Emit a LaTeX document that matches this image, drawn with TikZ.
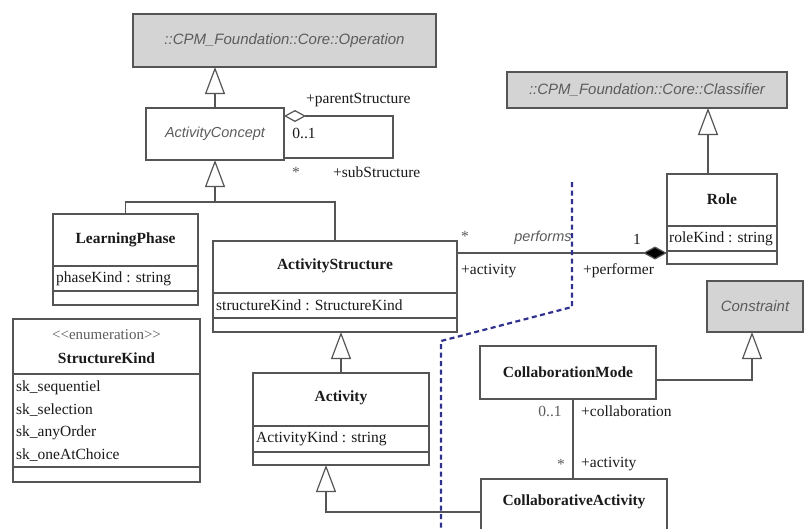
\documentclass[tikz,border=0pt]{standalone}
\usepackage{fontspec}
\setmainfont{Liberation Serif}
\setsansfont{Liberation Sans}
\usetikzlibrary{arrows.meta,calc}

\definecolor{boxline}{HTML}{555555}
\definecolor{boxfill}{HTML}{D4D4D4}
\definecolor{txt}{HTML}{1A1A1A}
\definecolor{soft}{HTML}{5C5C5C}
\definecolor{sep}{HTML}{30308F}

\tikzset{
  cls/.style={draw=boxline, line width=1.2pt, fill=white, inner sep=0pt, outer sep=0pt, anchor=north west},
  abstractcls/.style={cls, fill=boxfill},
  cname/.style={font=\fontsize{15.5}{18}\selectfont\bfseries, text=txt, inner sep=0pt},
  iname/.style={font=\fontsize{15}{18}\selectfont\sffamily\itshape, text=soft, inner sep=0pt},
  stereo/.style={font=\fontsize{15}{16}\selectfont, text=soft, inner sep=0pt},
  attr/.style={font=\fontsize{15.5}{18}\selectfont, text=txt, inner sep=0pt, anchor=west},
  lbl/.style={font=\fontsize{15.5}{18}\selectfont, text=txt, inner sep=0pt},
  mult/.style={lbl, text=soft},
  link/.style={draw=boxline, line width=1.2pt},
  gen/.style={link, -{Triangle[open, length=27pt, width=20pt]}},
  agg/.style={link, -{Diamond[open, length=22pt, width=12pt]}},
  comp/.style={link, -{Diamond[length=24pt, width=13pt, fill=black]}},
  boundary/.style={draw=sep, line width=2.2pt, dash pattern=on 5pt off 3.5pt},
  compsep/.style={draw=boxline, line width=1.2pt},
}

\begin{document}
\begin{tikzpicture}[x=1pt, y=-1pt]
  \clip (0,0) rectangle (804,528);
  \fill[white] (0,0) rectangle (804,528);

  % abstract base classes
  \node[abstractcls, minimum width=303pt, minimum height=53pt] (op) at (133,14) {};
  \node[iname] (opn) at (op.center) {::CPM\_Foundation::Core::Operation};

  \node[abstractcls, minimum width=280pt, minimum height=36pt] (cf) at (507,72) {};
  \node[iname] (cfn) at (cf.center) {::CPM\_Foundation::Core::Classifier};

  \node[abstractcls, minimum width=96pt, minimum height=51pt] (con) at (707,281) {};
  \node[iname] (conn) at (con.center) {Constraint};

  % ActivityConcept
  \node[cls, minimum width=138pt, minimum height=52pt] (ac) at (146,108) {};
  \node[iname, font=\fontsize{14.5}{18}\selectfont\sffamily\itshape] (acn) at (ac.center) {ActivityConcept};

  % LearningPhase
  \node[cls, minimum width=145pt, minimum height=91pt] (lp) at (53,214) {};
  \node[cname] (lpn) at ($(lp.north)+(0,26)$) {LearningPhase};
  \draw[compsep] ([yshift=-52pt]lp.north west) -- ([yshift=-52pt]lp.north east);
  \draw[compsep] ([yshift=-77pt]lp.north west) -- ([yshift=-77pt]lp.north east);
  \node[attr] (lpa) at ($(lp.north west)+(3,64.5)$) {phaseKind : string};

  % ActivityStructure
  \node[cls, minimum width=244pt, minimum height=91pt] (as) at (213,241) {};
  \node[cname] (asn) at ($(as.north)+(0,25)$) {ActivityStructure};
  \draw[compsep] ([yshift=-52pt]as.north west) -- ([yshift=-52pt]as.north east);
  \draw[compsep] ([yshift=-77pt]as.north west) -- ([yshift=-77pt]as.north east);
  \node[attr] (asa) at ($(as.north west)+(3,64.5)$) {structureKind : StructureKind};

  % StructureKind enumeration
  \node[cls, minimum width=187pt, minimum height=163pt] (sk) at (13,319) {};
  \node[stereo] (sks) at ($(sk.north)+(0,16)$) {<{}<enumeration>{}>};
  \node[cname] (skn) at ($(sk.north)+(0,39)$) {StructureKind};
  \draw[compsep] ([yshift=-55pt]sk.north west) -- ([yshift=-55pt]sk.north east);
  \draw[compsep] ([yshift=-148pt]sk.north west) -- ([yshift=-148pt]sk.north east);
  \node[attr] (sk1) at ($(sk.north west)+(3,69)$) {sk\_sequentiel};
  \node[attr] (sk2) at ($(sk.north west)+(3,91)$) {sk\_selection};
  \node[attr] (sk3) at ($(sk.north west)+(3,114)$) {sk\_anyOrder};
  \node[attr] (sk4) at ($(sk.north west)+(3,136)$) {sk\_oneAtChoice};

  % Activity
  \node[cls, minimum width=176pt, minimum height=92pt] (act) at (253,373) {};
  \node[cname] (actn) at ($(act.north)+(0,25)$) {Activity};
  \draw[compsep] ([yshift=-53pt]act.north west) -- ([yshift=-53pt]act.north east);
  \draw[compsep] ([yshift=-79pt]act.north west) -- ([yshift=-79pt]act.north east);
  \node[attr] (acta) at ($(act.north west)+(3,66)$) {ActivityKind : string};

  % Role
  \node[cls, minimum width=110pt, minimum height=90pt] (role) at (667,174) {};
  \node[cname] (rolen) at ($(role.north)+(0,25)$) {Role};
  \draw[compsep] ([yshift=-52pt]role.north west) -- ([yshift=-52pt]role.north east);
  \draw[compsep] ([yshift=-77pt]role.north west) -- ([yshift=-77pt]role.north east);
  \node[attr] (rolea) at ($(role.north west)+(2,64.5)$) {roleKind : string};

  % CollaborationMode and CollaborativeActivity
  \node[cls, minimum width=176pt, minimum height=53pt] (cm) at (480,346) {};
  \node[cname] (cmn) at (cm.center) {CollaborationMode};
  \node[cls, minimum width=186pt, minimum height=66pt] (ca) at (481,479) {};
  \node[cname] (can) at ($(ca.north)+(0,23)$) {CollaborativeActivity};

  % generalizations
  \draw[gen] (ac.north) -- (ac.north |- op.south);
  \path (ac.south) ++(0,42) coordinate (j1);
  \draw[link] (lp.north) |- (j1) -| (as.north);
  \draw[gen] (j1) -- (ac.south);
  \draw[gen] (act.north) -- (act.north |- as.south);
  \coordinate (actk) at (326,465);
  \draw[gen] (ca.west) -| (actk);
  \coordinate (roletop) at (708,174);
  \draw[gen] (roletop) -- (roletop |- cf.south);
  \coordinate (cmr) at (656,380);
  \coordinate (conb) at (752,332);
  \draw[gen] (cmr) -| (conb);

  % self aggregation of ActivityConcept
  \coordinate (acup) at (284,116);
  \coordinate (aclow) at (284,158);
  \coordinate (loopa) at (393,158);
  \coordinate (loopb) at (393,116);
  \draw[agg] (aclow) -- (loopa) -- (loopb) -- (acup);
  \node[lbl, anchor=west] (ps) at (306,100) {+parentStructure};
  \node[lbl] (psm) at (304,133) {0..1};
  \node[mult] (ssm) at (296,172) {*};
  \node[lbl, anchor=west] (ss) at (333,172) {+subStructure};

  % performs composition
  \coordinate (pa) at (457,253);
  \coordinate (pr) at (667,253);
  \draw[comp] (pa) -- (pr);
  \node[mult] (pam) at (465,236) {*};
  \node[iname, font=\fontsize{14.5}{18}\selectfont\sffamily\itshape] (pf) at (543,238) {performs};
  \node[lbl] (prm) at (637,239) {1};
  \node[lbl, anchor=west] (par) at (461,271) {+activity};
  \node[lbl, anchor=west] (prr) at (583,271) {+performer};

  % collaboration association
  \coordinate (cmb) at (573,399);
  \draw[link] (cmb) -- (cmb |- ca.north);
  \node[mult] (cmm) at (550,411) {0..1};
  \node[lbl, anchor=west] (cmr2) at (581,411) {+collaboration};
  \node[mult] (cam) at (561,464) {*};
  \node[lbl, anchor=west] (car) at (581,464) {+activity};

  % boundary line
  \coordinate (b1) at (572,182);
  \coordinate (b2) at (572,307);
  \coordinate (b3) at (441,341);
  \coordinate (b4) at (441,530);
  \draw[boundary] (b1) -- (b2) -- (b3) -- (b4);
\end{tikzpicture}
\end{document}
